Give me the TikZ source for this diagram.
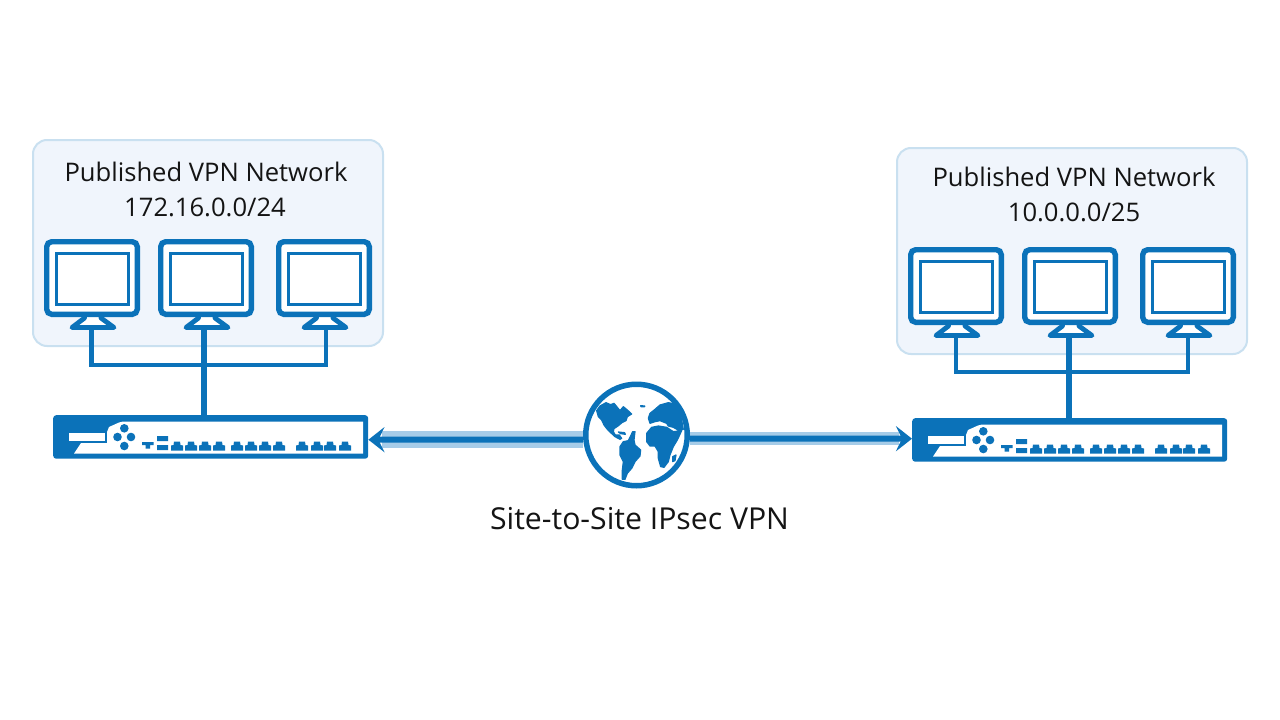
\documentclass[tikz,border=0pt]{standalone}
\usepackage{fontspec}
\setmainfont{Open Sans}
\usetikzlibrary{arrows.meta}
\definecolor{nblue}{HTML}{0B72B9}
\definecolor{nlight}{HTML}{A6CCE8}
\definecolor{pfill}{HTML}{F0F5FC}
\definecolor{pline}{HTML}{C9E0F0}
\definecolor{ink}{HTML}{141414}
\tikzset{
  x=1pt,y=-1pt,
  panel/.style={draw=pline,fill=pfill,line width=2pt,rounded corners=14pt,minimum width=350pt,minimum height=206pt,anchor=north west},
  monbody/.style={draw=nblue,fill=white,line width=5.4pt,rounded corners=5pt,minimum width=90.6pt,minimum height=72.6pt,anchor=north west,inner sep=0pt},
  monscreen/.style={draw=nblue,fill=white,line width=3pt,minimum width=72pt,minimum height=51pt,inner sep=0pt},
  monstand/.style={draw=nblue,fill=white,line width=4.8pt,line join=round},
  wire/.style={draw=nblue,line width=4.4pt},
  appbox/.style={fill=nblue,rounded corners=3pt,minimum width=315pt,minimum height=43.5pt,anchor=north west,inner sep=0pt},
  band/.style={draw=nlight},
  vpnline/.style={draw=nblue,line width=6pt,-{Stealth[length=16pt,width=25pt,inset=6pt]}},
  globe/.style={circle,draw=nblue,fill=white,line width=5.5pt,minimum size=101.5pt,inner sep=0pt},
  lbl/.style={text=ink,anchor=base,inner sep=0pt,font=\fontsize{25.6}{30}\selectfont},
  lblbig/.style={text=ink,anchor=base,inner sep=0pt,font=\fontsize{30.2}{36}\selectfont}
}
% name, x, y, drop offset
\newcommand{\monitor}[4]{
  \begin{scope}[shift={(#2,#3)}]
    \path[monstand] (40.5,74) -- (40.5,79) -- (28,88.5) -- (70,88.5) -- (57,79) -- (57,74) -- cycle;
    \node[monbody] (#1) at (0,0) {};
    \node[monscreen] (#1s) at (48.5,40) {};
    \coordinate (#1f) at (#4,91);
  \end{scope}
}
\newcommand{\portshape}[1]{
  \fill[nblue] (#1-6,35.5) -- (#1-6,30.5) -- (#1-3.5,30) -- (#1-3,26.5) -- (#1+3,26.5) -- (#1+3.5,30) -- (#1+6,30.5) -- (#1+6,35.5) -- cycle;
}
% name, x, y
\newcommand{\appliance}[3]{
  \node[appbox] (#1) at (#2,#3) {};
  \begin{scope}[shift={(#2,#3)}]
    \fill[white] (310,6.5) -- (310,38.5) -- (21,38.5) -- (28,28) -- (54,28) -- (54,17) -- (56,12) -- (66,7.5) -- (70,6.5) -- cycle;
    \fill[white] (16,18) rectangle (52,26);
    \fill[nblue] (71.3,13.3) circle (4.3) (64.5,22) circle (4.3) (78,22) circle (4.3) (71.3,31) circle (4.3);
    \fill[nblue] (89,27) -- (100.5,27) -- (100.5,30) -- (97,30) -- (97,33.5) -- (92.5,33.5) -- (92.5,30) -- (89,30) -- cycle;
    \fill[nblue] (104,21) rectangle (115,26) (104,30) rectangle (115,35);
    \foreach \p in {124,138,152,166,184,198,212,226,249,264,277,292}{\portshape{\p}}
  \end{scope}
}
% land masses of the globe, drawn in a 3x local frame
\newcommand{\landmasses}{
  \filldraw[nblue,line width=1.2pt,line join=round,x=0.3333pt,y=-0.3333pt,shift={(590pt,-390pt)}]
    (20,62) -- (30,48) -- (48,38) -- (62,44) -- (72,40) -- (82,52) -- (90,62) -- (100,50) -- (112,60) -- (125,72) -- (112,80) -- (108,92) -- (96,98) -- (84,108) -- (72,116) -- (70,125) -- (76,135) -- (88,135) -- (95,145) -- (90,148) -- (75,140) -- (62,128) -- (52,118) -- (42,105) -- (35,90) -- (25,80) -- cycle
    (90,170) -- (100,155) -- (115,152) -- (128,125) -- (135,125) -- (132,150) -- (135,165) -- (152,180) -- (150,198) -- (135,215) -- (125,235) -- (112,250) -- (105,268) -- (97,268) -- (97,240) -- (100,215) -- (90,195) -- cycle
    (85,126) -- (104,128) -- (106,133) -- (92,131) -- cycle
    (152,47) -- (164,48) -- (164,50) -- (153,50) -- cycle
    (175,85) -- (180,70) -- (195,58) -- (210,45) -- (235,38) -- (255,42) -- (268,62) -- (275,90) -- (280,118) -- (268,122) -- (250,112) -- (235,108) -- (230,100) -- (210,92) -- (195,95) -- (180,100) -- cycle
    (170,130) -- (185,112) -- (205,108) -- (230,112) -- (250,125) -- (275,122) -- (262,150) -- (250,170) -- (240,195) -- (235,215) -- (222,232) -- (212,230) -- (205,205) -- (205,185) -- (195,168) -- (180,168) -- (170,155) -- cycle
    (248,200) -- (258,195) -- (255,212) -- (248,215) -- cycle;
}
\begin{document}
\begin{tikzpicture}
\useasboundingbox (0,0) rectangle (1280,720);
\fill[white] (0,0) rectangle (1280,720);

% panels
\node[panel] (panelL) at (32,139) {};
\node[panel] (panelR) at (896,147) {};
\node[lbl] (tL1) at (206,181) {Published VPN Network};
\node[lbl] (tL2) at (205,216.5) {172.16.0.0/24};
\node[lbl] (tR1) at (1074,186.5) {Published VPN Network};
\node[lbl] (tR2) at (1074,221.5) {10.0.0.0/25};

% monitors
\monitor{la}{44}{239}{47.5}
\monitor{lb}{158}{239}{46}
\monitor{lc}{276}{239}{50}
\monitor{ra}{908}{247}{48}
\monitor{rb}{1022}{247}{47}
\monitor{rc}{1140}{247}{48}

% appliances
\appliance{appL}{53}{415}
\appliance{appR}{912}{418}

% bus wires
\coordinate (lbus) at (204,365);
\coordinate (rbus) at (1069,372);
\draw[wire] (laf) |- (lbus) -| (lcf);
\draw[wire,line width=5.4pt] (lbf) -- (lbf |- appL.north);
\draw[wire] (raf) |- (rbus) -| (rcf);
\draw[wire,line width=5.4pt] (rbf) -- (rbf |- appR.north);

% globe
\node[globe] (net) at (636.5,435) {};
\landmasses

% VPN links
\coordinate (bandL) at (382,439.5);
\coordinate (bandR) at (899,438.5);
\draw[band,line width=17pt] (bandL) -- (bandL -| net.west);
\draw[band,line width=13pt] (bandR -| net.east) -- (bandR);
\node[lblbig] (tV) at (639.5,529.5) {Site-to-Site IPsec VPN};
\draw[vpnline] ([yshift=-4.5pt]net.west) -- ([yshift=-2.75pt]appL.east);
\draw[vpnline] ([yshift=-3.5pt]net.east) -- ([yshift=1.25pt]appR.west);
\end{tikzpicture}
\end{document}
